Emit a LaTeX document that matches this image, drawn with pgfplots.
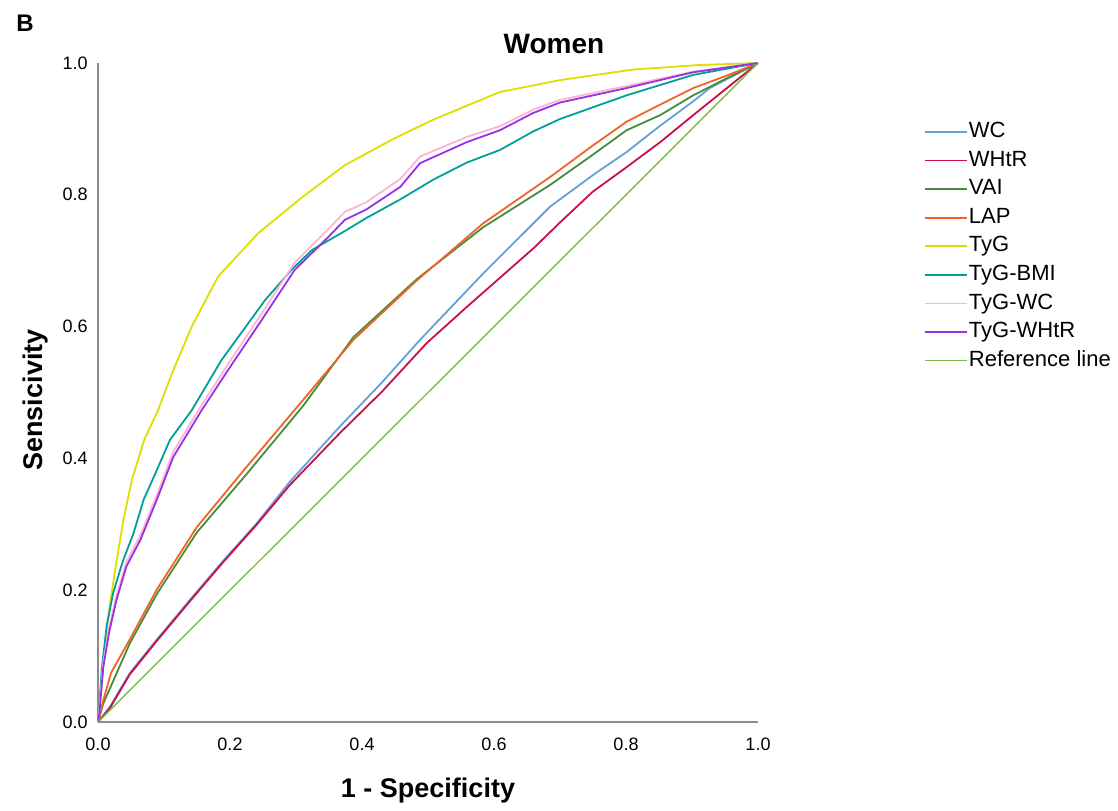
\documentclass[border=0pt]{standalone}
\usepackage{pgfplots}
\pgfplotsset{compat=1.18}
\usepackage{fontspec}
\setmainfont{Liberation Sans}

\definecolor{cWC}{RGB}{100,160,220}
\definecolor{cWHtR}{RGB}{200,16,70}
\definecolor{cVAI}{RGB}{70,140,60}
\definecolor{cLAP}{RGB}{240,100,40}
\definecolor{cTyG}{RGB}{222,222,0}
\definecolor{cBMI}{RGB}{0,160,150}
\definecolor{cTWC}{RGB}{255,180,210}
\definecolor{cTWHtR}{RGB}{150,50,230}
\definecolor{cRef}{RGB}{120,190,70}
\definecolor{axgray}{RGB}{140,140,140}

\begin{document}
\begin{tikzpicture}
\path[use as bounding box] (0pt,0pt) rectangle (559pt,405pt);
\begin{axis}[
  at={(49pt,44pt)}, anchor=south west,
  scale only axis, width=330pt, height=329.5pt,
  xmin=0, xmax=1, ymin=0, ymax=1,
  axis x line*=bottom, axis y line*=left,
  axis line style={axgray, line width=1pt, -},
  xtick={0,0.2,...,1}, ytick={0,0.2,...,1},
  major tick length=0pt,
  xticklabel style={/pgf/number format/.cd, fixed, fixed zerofill, precision=1, /tikz/.cd, inner sep=0pt, yshift=-8pt},
  yticklabel style={/pgf/number format/.cd, fixed, fixed zerofill, precision=1, /tikz/.cd, inner sep=0pt, xshift=-5pt},
  /pgf/number format/assume math mode=true,
  tick label style={font=\fontsize{9}{10}\selectfont},
  every axis plot/.append style={line width=0.9pt},
  legend cell align=left,
  legend style={at={(1.242,0.918)}, anchor=north west, draw=none, fill=none,
    font=\fontsize{11}{12}\selectfont, row sep=3.8pt,
    nodes={inner sep=0.5pt, text height=7.5pt, text depth=2pt}},
  legend image code/.code={\draw[#1] (0pt,0pt) -- (21pt,0pt);},
]
\addplot[cWC] coordinates {(0,0) (0.018,0.023) (0.048,0.074) (0.089,0.125) (0.139,0.185) (0.19,0.245) (0.24,0.301) (0.291,0.365) (0.367,0.449) (0.43,0.515) (0.488,0.580) (0.584,0.681) (0.685,0.782) (0.75,0.830) (0.801,0.865) (0.852,0.905) (0.902,0.942) (0.927,0.962) (1,1)};
\addlegendentry{WC}
\addplot[cWHtR] coordinates {(0,0) (0.018,0.021) (0.048,0.072) (0.089,0.123) (0.139,0.183) (0.19,0.243) (0.24,0.299) (0.291,0.360) (0.367,0.439) (0.43,0.501) (0.498,0.575) (0.559,0.630) (0.66,0.719) (0.7,0.758) (0.75,0.805) (0.801,0.842) (0.852,0.880) (0.902,0.921) (0.953,0.962) (1,1)};
\addlegendentry{WHtR}
\addplot[cVAI] coordinates {(0,0) (0.008,0.028) (0.048,0.119) (0.089,0.194) (0.15,0.288) (0.225,0.376) (0.311,0.480) (0.387,0.584) (0.483,0.672) (0.584,0.751) (0.685,0.815) (0.75,0.861) (0.801,0.898) (0.852,0.921) (0.902,0.951) (0.953,0.977) (1,1)};
\addlegendentry{VAI}
\addplot[cLAP] coordinates {(0,0) (0.008,0.033) (0.02,0.075) (0.048,0.125) (0.089,0.201) (0.15,0.296) (0.225,0.387) (0.311,0.489) (0.387,0.580) (0.483,0.670) (0.584,0.757) (0.685,0.827) (0.75,0.875) (0.801,0.911) (0.852,0.937) (0.902,0.962) (0.953,0.981) (1,1)};
\addlegendentry{LAP}
\addplot[cTyG] coordinates {(0,0) (0.002,0.023) (0.008,0.085) (0.015,0.158) (0.026,0.231) (0.038,0.304) (0.051,0.366) (0.07,0.428) (0.091,0.473) (0.112,0.529) (0.142,0.600) (0.182,0.676) (0.243,0.742) (0.309,0.796) (0.374,0.845) (0.45,0.886) (0.508,0.914) (0.609,0.956) (0.7,0.974) (0.81,0.990) (0.912,0.997) (1,1)};
\addlegendentry{TyG}
\addplot[cBMI] coordinates {(0,0) (0.002,0.023) (0.006,0.083) (0.013,0.145) (0.023,0.196) (0.038,0.245) (0.054,0.287) (0.069,0.337) (0.089,0.382) (0.109,0.428) (0.142,0.473) (0.187,0.549) (0.253,0.640) (0.293,0.686) (0.324,0.716) (0.374,0.745) (0.407,0.765) (0.458,0.793) (0.508,0.823) (0.559,0.849) (0.609,0.868) (0.659,0.896) (0.7,0.915) (0.801,0.951) (0.902,0.982) (1,1)};
\addlegendentry{TyG-BMI}
\addplot[cTWC] coordinates {(0,0) (0.002,0.018) (0.008,0.09) (0.017,0.144) (0.028,0.192) (0.043,0.243) (0.064,0.283) (0.089,0.344) (0.114,0.410) (0.157,0.481) (0.197,0.543) (0.248,0.620) (0.298,0.697) (0.349,0.748) (0.374,0.774) (0.407,0.789) (0.458,0.824) (0.488,0.858) (0.559,0.888) (0.609,0.904) (0.659,0.929) (0.7,0.944) (0.801,0.965) (0.902,0.987) (1,1)};
\addlegendentry{TyG-WC}
\addplot[cTWHtR] coordinates {(0,0) (0.002,0.012) (0.008,0.083) (0.017,0.137) (0.028,0.185) (0.043,0.236) (0.064,0.276) (0.089,0.337) (0.114,0.402) (0.157,0.473) (0.197,0.534) (0.248,0.610) (0.298,0.686) (0.349,0.736) (0.374,0.762) (0.407,0.778) (0.458,0.812) (0.488,0.848) (0.559,0.880) (0.609,0.898) (0.659,0.924) (0.7,0.940) (0.801,0.962) (0.902,0.986) (1,1)};
\addlegendentry{TyG-WHtR}
\addplot[cRef, line width=0.7pt] coordinates {(0,0) (1,1)};
\addlegendentry{Reference line}
\end{axis}
\node[font=\bfseries\fontsize{12}{14}\selectfont] at (12.5pt,393.5pt) {B};
\node[font=\bfseries\fontsize{14}{16}\selectfont] at (277pt,383pt) {Women};
\node[font=\bfseries\fontsize{13.5}{15}\selectfont, rotate=90] at (18pt,205pt) {Sensicivity};
\node[font=\bfseries\fontsize{13.5}{15}\selectfont] at (214pt,9.5pt) {1 - Specificity};
\end{tikzpicture}
\end{document}
